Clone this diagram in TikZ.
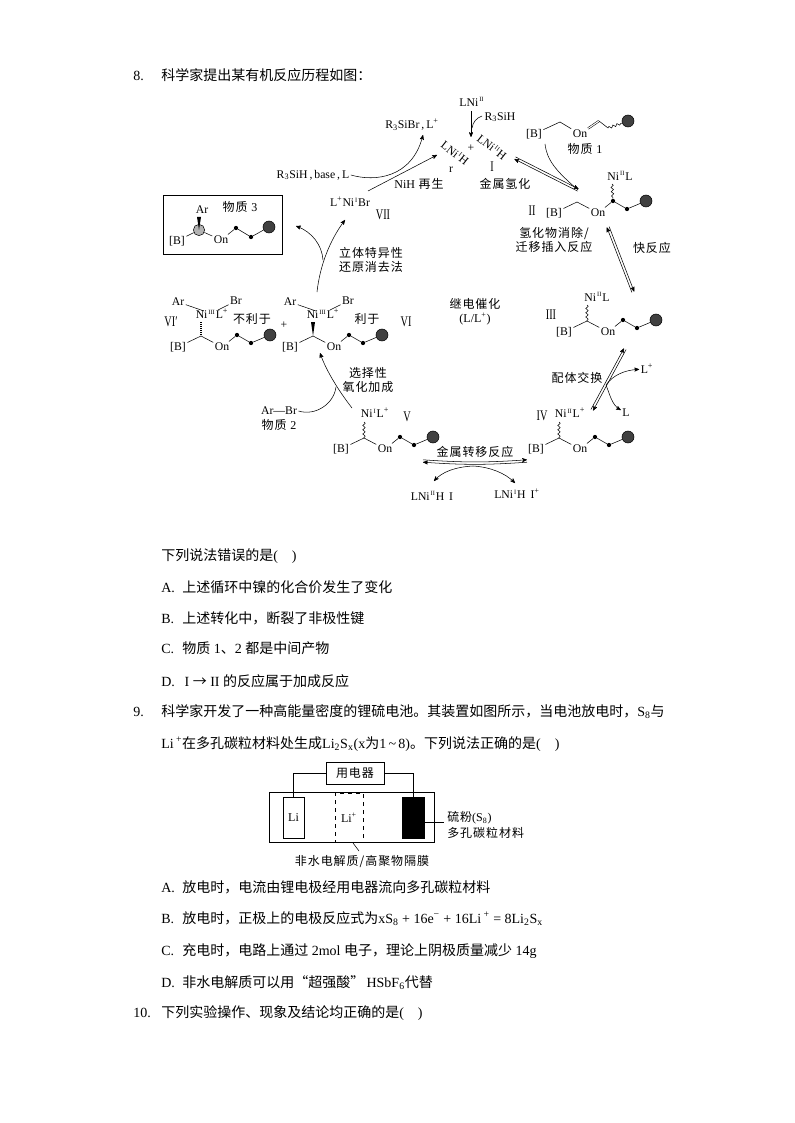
\documentclass[tikz,border=0pt]{standalone}
\usepackage{fontspec}
\setmainfont{Liberation Serif}
\newfontfamily\cjk{Noto Sans CJK SC}
\newfontfamily\cjkd[LetterSpace=8]{Noto Sans CJK SC}
\usetikzlibrary{arrows, calc, decorations.pathmorphing}
\newcommand{\zh}[1]{{\cjk #1}}
\newcommand{\opt}[1]{\makebox[15.75pt][l]{#1}}
\newcommand{\oxi}[1]{\kern0.7pt\raisebox{0.36em}{\fontsize{4.8}{5}\selectfont #1}\kern0.7pt}
\newcommand{\rmn}[1]{\scalebox{0.7}[1]{\fontsize{11}{11}\selectfont #1}}
\tikzset{>=stealth', line width=0.6pt,
    txt/.style = {anchor=base west, inner sep=0pt, font=\fontsize{10.5}{12}\selectfont},
    chem/.style = {inner sep=1pt, font=\fontsize{8.8}{10}\selectfont},
    rom/.style = {inner sep=0pt},
    note/.style = {inner sep=0pt, align=center, font=\fontsize{9}{10.5}\selectfont\cjkd},
    dot/.style = {circle, fill=black, inner sep=0pt, minimum size=3.2pt},
    ball/.style = {circle, draw=black, fill=black!75, inner sep=0pt, minimum size=9pt},
    wavy/.style = {decorate, decoration={snake, amplitude=0.9pt, segment length=3.2pt}},
    cell/.style = {draw, inner sep=0pt, font=\fontsize{9}{10}\selectfont}}
% [B]-C-On-.-.-ball, #1 is the name, #2 and #3 the bend
\newcommand{\chain}[3]{
    \coordinate (#1c) at (#2,#3);
    \node[chem] (#1b) at (#2-23,#3+11) {[B]};
    \node[chem] (#1o) at (#2+21,#3+11) {On};
    \node[dot] (#1p) at (#2+36,#3-1) {};
    \node[dot] (#1q) at (#2+50,#3+7) {};
    \node[ball] (#1r) at (#2+69,#3-1) {};
    \draw (#1b) -- (#1c) -- (#1o) -- (#1p) -- (#1q) -- (#1r);
}
% two lines side by side, one head each way
\newcommand{\eqm}[2]{
    \draw[->] ($(#1)!0.9pt!90:(#2)$) -- ($(#2)!0.9pt!-90:(#1)$);
    \draw[->] ($(#2)!0.9pt!90:(#1)$) -- ($(#1)!0.9pt!-90:(#2)$);
}
\begin{document}
\begin{tikzpicture}[x=0.75pt, y=-0.75pt]
    \useasboundingbox (0,0) rectangle (794,1123);

    % question 8
    \node[txt] (n8) at (133,81) {8.};
    \node[txt] (q8) at (161,81) {\zh{科学家提出某有机反应历程如图：}};

    % top of the cycle
    \node[chem] (lni) at (472,102) {LNi\oxi{II}};
    \node[chem] (silane) at (500,117) {R\textsubscript{3}SiH};
    \node[chem] (sibr) at (412,125) {R\textsubscript{3}SiBr\,,\,L\textsuperscript{+}};
    \node[chem, rotate=-38] (h2) at (492,147) {LNi\oxi{II}H};
    \node[chem, rotate=-38] (h1) at (455,153) {LNi\oxi{I}H};
    \node[chem] (plus1) at (471,148) {+};
    \node[chem] (rr) at (451,170) {r};
    \node[rom] (r1) at (492,167) {\rmn{I}};
    \node[note] (hyd) at (505,184) {金属氢化};
    \node[note] (regen) at (419,184) {{\rmfamily NiH} 再生};
    \coordinate (a1) at (471,111);
    \coordinate (a2) at (471,137);
    \coordinate (a3) at (482,116);
    \coordinate (a4) at (472,128);
    \draw[->] (a1) -- (a2);
    \draw (a3) to[bend right=30] (a4);

    % substance 1
    \node[chem] (s1b) at (534,134) {[B]};
    \coordinate (s1c) at (560,122);
    \node[chem] (s1o) at (580,134) {On};
    \coordinate (s1d) at (599,121);
    \coordinate (s1e) at (608,128);
    \node[ball] (s1r) at (628,121) {};
    \draw (s1b) -- (s1c) -- (s1o);
    \draw[double, double distance=0.8pt] (s1o) -- (s1d);
    \draw (s1d) -- (s1e);
    \draw[wavy] (s1e) -- (s1r);
    \node[note] (name1) at (585,149) {物质 {\rmfamily 1}};
    \coordinate (b1) at (545,144);
    \coordinate (b2) at (578,190);
    \coordinate (b3) at (515,158);
    \draw (b1) .. controls (547,160) and (555,170) .. (b2);
    \eqm{b3}{b2}

    % II
    \chain{t}{577}{202}
    \node[chem] (ni2) at (620,176) {Ni\oxi{II}L};
    \coordinate (w2) at (612,184);
    \draw[wavy] (w2) -- (tp);
    \node[rom] (r2) at (532,211) {\rmn{II}};
    \node[note] (elim) at (554,240) {氢化物消除/\\迁移插入反应};
    \node[note] (fast) at (652,248) {快反应};
    \coordinate (c1) at (608,227);
    \coordinate (c2) at (633,292);
    \eqm{c1}{c2}

    % III
    \chain{u}{587}{321}
    \node[chem] (ni3) at (597,297) {Ni\oxi{II}L};
    \coordinate (w3) at (587,305);
    \draw[wavy] (w3) -- (uc);
    \node[rom] (r3) at (551,315) {\rmn{III}};

    % centre
    \node[note] (relay) at (475,312) {继电催化\\{\rmfamily (L/L\textsuperscript{+})}};

    % IV
    \chain{v}{559}{438}
    \node[chem] (ni4) at (570,413) {Ni\oxi{II}L\textsuperscript{+}};
    \coordinate (w4) at (559,422);
    \draw[wavy] (w4) -- (vc);
    \node[rom] (r4) at (542,416) {\rmn{IV}};
    \node[note] (swap) at (577,378) {配体交换};
    \node[chem] (lp) at (647,369) {L\textsuperscript{+}};
    \node[chem] (ll) at (626,413) {L};
    \coordinate (d1) at (592,410);
    \coordinate (d2) at (625,349);
    \coordinate (d3) at (606,385);
    \eqm{d1}{d2}
    \draw[->] (d3) .. controls (613,375) and (625,370) .. (lp);
    \draw[->] (d3) .. controls (610,395) and (612,405) .. (ll);

    % V
    \chain{w}{364}{438}
    \node[chem] (ni5) at (375,413) {Ni\oxi{I}L\textsuperscript{+}};
    \coordinate (w5) at (364,422);
    \draw[wavy] (w5) -- (wc);
    \node[rom] (r5) at (407,417) {\rmn{V}};

    % metal transfer
    \node[note] (trans) at (475,452) {金属转移反应};
    \node[chem] (prod1) at (432,496) {LNi\oxi{II}H\, I};
    \node[chem] (prod2) at (517,494) {LNi\oxi{I}H\, I\textsuperscript{+}};
    \coordinate (e1) at (423,461);
    \coordinate (e2) at (527,461);
    \coordinate (e3) at (473,466);
    \coordinate (e4) at (434,481);
    \coordinate (e5) at (515,483);
    \draw[->] ([yshift=0.9pt]e1) to[bend right=4] ([yshift=0.9pt]e2);
    \draw[->] ([yshift=-0.9pt]e2) to[bend left=4] ([yshift=-0.9pt]e1);
    \draw[->] (e3) .. controls (455,467) and (442,472) .. (e4);
    \draw[->] (e3) .. controls (490,467) and (505,473) .. (e5);

    % oxidative addition
    \node[chem] (arbr) at (279,411) {Ar---Br};
    \node[note] (name2) at (279,425) {物质 {\rmfamily 2}};
    \node[note] (addn) at (368,380) {选择性\\氧化加成};
    \coordinate (f1) at (352,408);
    \coordinate (f2) at (320,353);
    \coordinate (f3) at (336,387);
    \draw[->] (f1) .. controls (338,390) and (326,370) .. (f2);
    \draw (arbr.east) to[bend right=50] (f3);

    % VI
    \chain{x}{313}{336}
    \node[chem] (ni6) at (323,314) {Ni\oxi{III}L\textsuperscript{+}};
    \node[chem] (ar6) at (290,302) {Ar};
    \node[chem] (br6) at (348,301) {Br};
    \coordinate (g1) at (316,311);
    \coordinate (g2) at (330,310);
    \draw (ar6) -- (g1);
    \draw (g2) -- (br6);
    \fill (311,322) -- (315,322) -- (xc) -- cycle;
    \node[note] (fav) at (367,319) {利于};
    \node[rom] (r6) at (406,322) {\rmn{VI}};
    \node[chem] (plus2) at (284,325) {+};

    % VI'
    \chain{y}{201}{336}
    \node[chem] (ni7) at (212,314) {Ni\oxi{III}L\textsuperscript{+}};
    \node[chem] (ar7) at (178,302) {Ar};
    \node[chem] (br7) at (236,301) {Br};
    \coordinate (h3) at (204,311);
    \coordinate (h4) at (218,310);
    \draw (ar7) -- (h3);
    \draw (h4) -- (br7);
    \coordinate (h5) at (201,322);
    \draw[line width=2pt, dash pattern=on 0.5pt off 1pt] (h5) -- (yc);
    \node[note] (unfav) at (252,319) {不利于};
    \node[rom] (r7) at (171,322) {\rmn{VI′}};

    % VII and substance 3
    \node[chem] (ni8) at (350,202) {L\textsuperscript{+}Ni\oxi{I}Br};
    \node[rom] (r8) at (383,215) {\rmn{VII}};
    \node[chem] (base) at (313,175) {R\textsubscript{3}SiH\,,\,base\,,\,L};
    \node[note] (stereo) at (371,260) {立体特异性\\还原消去法};
    \coordinate (k1) at (317,292);
    \coordinate (k2) at (345,220);
    \coordinate (k3) at (323,260);
    \coordinate (k4) at (296,226);
    \coordinate (k5) at (368,191);
    \coordinate (k6) at (437,155);
    \coordinate (k7) at (423,135);
    \draw[->] (k1) .. controls (320,265) and (330,240) .. (k2);
    \draw[->] (k3) .. controls (322,245) and (312,232) .. (k4);
    \draw[->] (k5) -- (k6);
    \draw[->] (base.east) .. controls (375,182) and (412,178) .. (k7);

    \node[draw, minimum width=89.25pt, minimum height=44.25pt] (box3) at (222.5,224.5) {};
    \node[note] (name3) at (240,207) {物质 {\rmfamily 3}};
    \node[chem] (ar3) at (202,210) {Ar};
    \node[circle, draw, fill=black!30, inner sep=0pt, minimum size=8.5pt] (c3) at (199,230) {};
    \node[chem] (b3n) at (177,241) {[B]};
    \node[chem] (o3) at (221,240) {On};
    \node[dot] (p3) at (236,228) {};
    \node[dot] (q3) at (251,237) {};
    \node[ball] (r3n) at (269,227) {};
    \draw (b3n) -- (c3) -- (o3) -- (p3) -- (q3) -- (r3n);
    \fill (197,217) -- (201,217) -- (c3.center) -- cycle;

    % answers of question 8
    \node[txt] (q8a) at (161,560) {\zh{下列说法错误的是}(\quad)};
    \node[txt] (o8a) at (161,592) {\opt{A.}\zh{上述循环中镍的化合价发生了变化}};
    \node[txt] (o8b) at (161,623) {\opt{B.}\zh{上述转化中，断裂了非极性键}};
    \node[txt] (o8c) at (161,653) {\opt{C.}\zh{物质} 1\zh{、}2 \zh{都是中间产物}};
    \node[txt] (o8d) at (161,686) {\opt{D.}\,I \zh{→} II \zh{的反应属于加成反应}};

    % question 9
    \node[txt] (n9) at (133,716) {9.};
    \node[txt] (q9a) at (161,716) {\zh{科学家开发了一种高能量密度的锂硫电池。其装置如图所示，当电池放电时，}S\textsubscript{8}\zh{与}};
    \node[txt] (q9b) at (161,748) {Li\,\textsuperscript{+}\zh{在多孔碳粒材料处生成}Li\textsubscript{2}S\textsubscript{x}(x\zh{为}1\,\char`\~\,8)\zh{。下列说法正确的是}(\quad)};

    % battery
    \node[draw, minimum width=123.75pt, minimum height=37.5pt] (cellbox) at (351.5,817) {};
    \node[draw, fill=white, minimum width=43.5pt, minimum height=16.5pt, font=\fontsize{9}{10}\selectfont\cjkd, inner sep=0pt] (load) at (355,773) {用电器};
    \node[cell, minimum width=15.75pt, minimum height=30.75pt] (li) at (293.5,817.5) {Li};
    \node[cell, dashed, minimum width=21pt, minimum height=36.75pt] (sep) at (349,817.5) {Li\textsuperscript{+}};
    \node[cell, fill=black, minimum width=16.5pt, minimum height=30.75pt] (cathode) at (413,817.5) {};
    \draw (load.west) -| (li.north);
    \draw (load.east) -| (cathode.north);
    \coordinate (m1) at (424,822);
    \coordinate (m2) at (444,822);
    \coordinate (m3) at (353,843);
    \coordinate (m4) at (359,851);
    \draw (m1) -- (m2);
    \draw (m3) -- (m4);
    \node[note, anchor=west] (sulfur) at (447,818) {硫粉{\rmfamily (S\textsubscript{8})}};
    \node[note, anchor=west] (carbon) at (447,833) {多孔碳粒材料};
    \node[note] (film) at (362,862) {非水电解质/高聚物隔膜};

    % answers of question 9
    \node[txt] (o9a) at (161,892) {\opt{A.}\zh{放电时，电流由锂电极经用电器流向多孔碳粒材料}};
    \node[txt] (o9b) at (161,923) {\opt{B.}\zh{放电时，正极上的电极反应式为}xS\textsubscript{8} + 16e\textsuperscript{−} + 16Li\,\textsuperscript{+} = 8Li\textsubscript{2}S\textsubscript{x}};
    \node[txt] (o9c) at (161,955) {\opt{C.}\zh{充电时，电路上通过} 2mol \zh{电子，理论上阴极质量减少} 14g};
    \node[txt] (o9d) at (161,987) {\opt{D.}\zh{非水电解质可以用}\zh{“超强酸”}\,HSbF\textsubscript{6}\zh{代替}};

    % question 10
    \node[txt] (n10) at (133,1017) {10.};
    \node[txt] (q10) at (161,1017) {\zh{下列实验操作、现象及结论均正确的是}(\quad)};
\end{tikzpicture}
\end{document}
